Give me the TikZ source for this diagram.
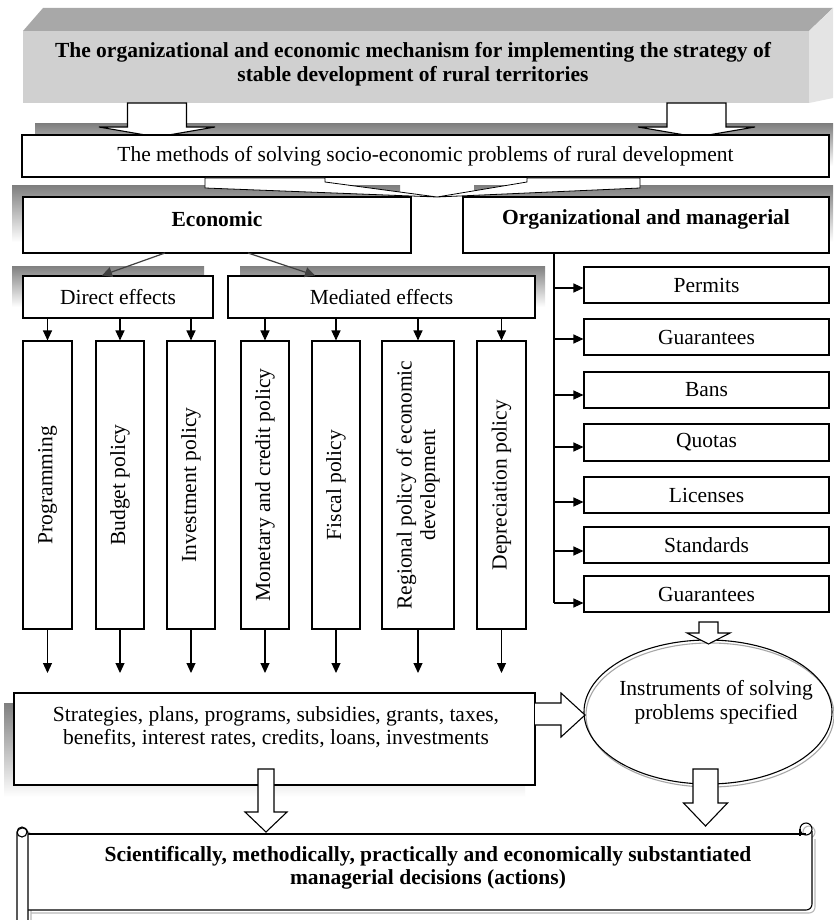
\documentclass[tikz,border=0pt]{standalone}
\usepackage{fontspec}
\setmainfont{Liberation Serif}
\usetikzlibrary{arrows.meta,calc,shapes.geometric}
\definecolor{shade}{RGB}{200,200,200}
\definecolor{frontgray}{RGB}{208,208,208}
\definecolor{topgray}{RGB}{168,168,168}
\definecolor{sidegray}{RGB}{228,228,228}
\definecolor{dgray}{RGB}{64,64,64}
\newcommand\dnblock[6]{% x, ytop, ybase, ytip, half shaft, half head
  \draw[blockarr] (#1-#5,#2) -- (#1-#5,#3) -- (#1-#6,#3) -- (#1,#4) -- (#1+#6,#3) -- (#1+#5,#3) -- (#1+#5,#2) -- cycle;}
\begin{document}
\begin{tikzpicture}[x=1pt,y=-1pt,
  txt/.style={font=\fontsize{21.5}{23.5}\selectfont, align=center, inner sep=0pt},
  btxt/.style={txt, font=\fontsize{21.5}{23.5}\selectfont\bfseries},
  box/.style={draw=black, line width=1.1pt, fill=white, inner sep=0pt},
  arr/.style={line width=1.1pt, -{Triangle[length=10pt,width=9pt]}},
  garr/.style={line width=1.2pt, draw=dgray, -{Triangle[length=10pt,width=10pt]}, dgray},
  blockarr/.style={draw=black, line width=1.1pt, fill=white, line join=miter}
]
\fill[white] (0,0) rectangle (833,920);
\useasboundingbox (0,0) rectangle (833,920);

% ---- title 3D block
\fill[topgray] (23,31) -- (43,8) -- (833,8) -- (809,31) -- cycle;
\fill[sidegray] (809,31) -- (833,8) -- (833,98) -- (809,103) -- cycle;
\fill[frontgray] (23,31) rectangle (809,103);
\node[btxt] (title) at (413,64) {The organizational and economic mechanism for implementing the strategy of\\ stable development of rural territories};

% ---- shadows
\fill[shade] (35,124) rectangle (833,166);
\fill[shade] (12,186) rectangle (400,242);
\fill[shade] (474,186) rectangle (833,242);
\fill[shade] (12,266) rectangle (204,307);
\fill[shade] (240,266) rectangle (545,307);
\fill[shade] (4,703) rectangle (525,797);

% ---- block arrows from title
\dnblock{157}{103}{127}{137}{29.5}{58}
\dnblock{696.5}{103}{127}{137}{29.5}{58.5}

% ---- methods box
\node[box, minimum width=807pt, minimum height=42pt] (methods) at (425.5,156) {};
\node[txt] at (methods) {The methods of solving socio-economic problems of rural development};

% ---- flat arrows under methods box
\draw[blockarr, line width=0.8pt] (205,178) -- (325,178) -- (325,182) -- (437,197) -- (205,188) -- cycle;
\draw[blockarr, line width=0.8pt] (640,178) -- (527,178) -- (527,182) -- (437,197) -- (640,188) -- cycle;

% ---- economic / organizational
\node[box, minimum width=388pt, minimum height=56pt] (econ) at (217,225) {};
\node[btxt] at (217,219) {Economic};
\node[box, minimum width=366pt, minimum height=56pt] (org) at (646,225) {};
\node[btxt] at (646,219) {Organizational and managerial};

% ---- effects
\node[box, minimum width=190pt, minimum height=42pt] (direct) at (118,297) {};
\node[txt] at (direct) {Direct effects};
\node[box, minimum width=307pt, minimum height=42pt] (mediated) at (381.5,297) {};
\node[txt] at (mediated) {Mediated effects};
\draw[garr] (165,253) -- (direct.north -| 102,0);
\draw[garr] (248,253) -- (mediated.north -| 315,0);

% ---- vertical boxes
\foreach \n/\cx/\w in {prog/47.5/49, budget/120/48, invest/191/48, monet/265/48, fiscal/336/48, region/418/72, deprec/501.5/49}{
  \node[box, minimum width=\w pt, minimum height=288pt] (\n) at (\cx,485) {};
}
\node[txt, rotate=90] at (prog) {Programming};
\node[txt, rotate=90] at (budget) {Budget policy};
\node[txt, rotate=90] at (invest) {Investment policy};
\node[txt, rotate=90] at (monet) {Monetary and credit policy};
\node[txt, rotate=90] at (fiscal) {Fiscal policy};
\node[txt, rotate=90] at (region) {Regional policy of economic\\ development};
\node[txt, rotate=90] at (deprec) {Depreciation policy};

\foreach \n in {prog,budget,invest}{ \draw[arr] (\n.north |- direct.south) -- (\n.north); }
\foreach \n in {monet,fiscal,region,deprec}{ \draw[arr] (\n.north |- mediated.south) -- (\n.north); }

\coordinate (lvl) at (0,673);
\foreach \n in {prog,budget,invest,monet,fiscal,region,deprec}{ \draw[arr] (\n.south) -- (\n.south |- lvl); }

% ---- right column
\coordinate (trunk) at (554,253);
\foreach \n/\cy/\h/\t in {permits/285/36/Permits, guar/337/36/Guarantees, bans/390/36/Bans, quotas/442.5/37/Quotas, lic/495/36/Licenses, stand/545/36/Standards, guartwo/594/36/Guarantees}{
  \node[box, minimum width=245pt, minimum height=\h pt] (\n) at (706.5,\cy) {};
  \node[txt] at (\n) {\t};
}
\draw[line width=1.1pt] (org.south -| trunk) -- ([yshift=-9pt]guartwo.west -| trunk);
\foreach \n/\s in {permits/3, guar/2, bans/5, quotas/4.5, lic/7, stand/6, guartwo/9}{
  \draw[arr] ([yshift=-\s pt]\n.west -| trunk) -- ([yshift=-\s pt]\n.west);
}

% ---- ellipse
\node[ellipse, draw=gray!70, line width=1.1pt, minimum width=248pt, minimum height=144pt, inner sep=0pt] (instrshadow) at (710,715) {};
\node[ellipse, draw=black, line width=1.1pt, minimum width=248pt, minimum height=144pt, inner sep=0pt] (instr) at (708,712) {};
\node[txt] at (716,702) {Instruments of solving\\ problems specified};

% ---- arrow into ellipse from guarantees
\dnblock{708.5}{622}{633}{644}{9.5}{21.5}

% ---- strategies box
\node[box, minimum width=521pt, minimum height=92pt] (strat) at (274.5,739) {};
\node[txt] at (276,727) {Strategies, plans, programs, subsidies, grants, taxes,\\ benefits, interest rates, credits, loans, investments};

% ---- right block arrow strategies -> ellipse
\draw[blockarr] (535,703) -- (561,703) -- (561,693) -- (585,715) -- (561,737) -- (561,725) -- (535,725);

% ---- scroll
\begin{scope}[shift={(3,3)}, draw=gray!55, line width=1.1pt]
  \draw (28,834) -- (806,834);
  \draw (812,836) -- (812,904) to[out=-90,in=0] (806,910) -- (28,910);
  \draw[rounded corners=5pt] (17,828) rectangle (28,925);
  \draw (806,829) circle (6);
\end{scope}
\fill[white] (28,834) rectangle (812,910);
\begin{scope}[draw=black, line width=1.1pt]
  \draw (28,834) -- (806,834);
  \draw (812,831) -- (812,904) to[out=-90,in=0] (806,910) -- (28,910);
  \draw[fill=white, rounded corners=5pt] (17,828) rectangle (28,925);
  \draw (22,832) circle (5);
  \draw (806,829) circle (6);
  \draw (800,829) -- (800,836);
\end{scope}
\node[btxt] (scrolltext) at (428,868) {Scientifically, methodically, practically and economically substantiated\\ managerial decisions (actions)};

% ---- down block arrows to scroll
\dnblock{266}{769}{812}{832}{8}{21}
\dnblock{705.5}{769}{803}{826}{12.5}{22}
\end{tikzpicture}
\end{document}
